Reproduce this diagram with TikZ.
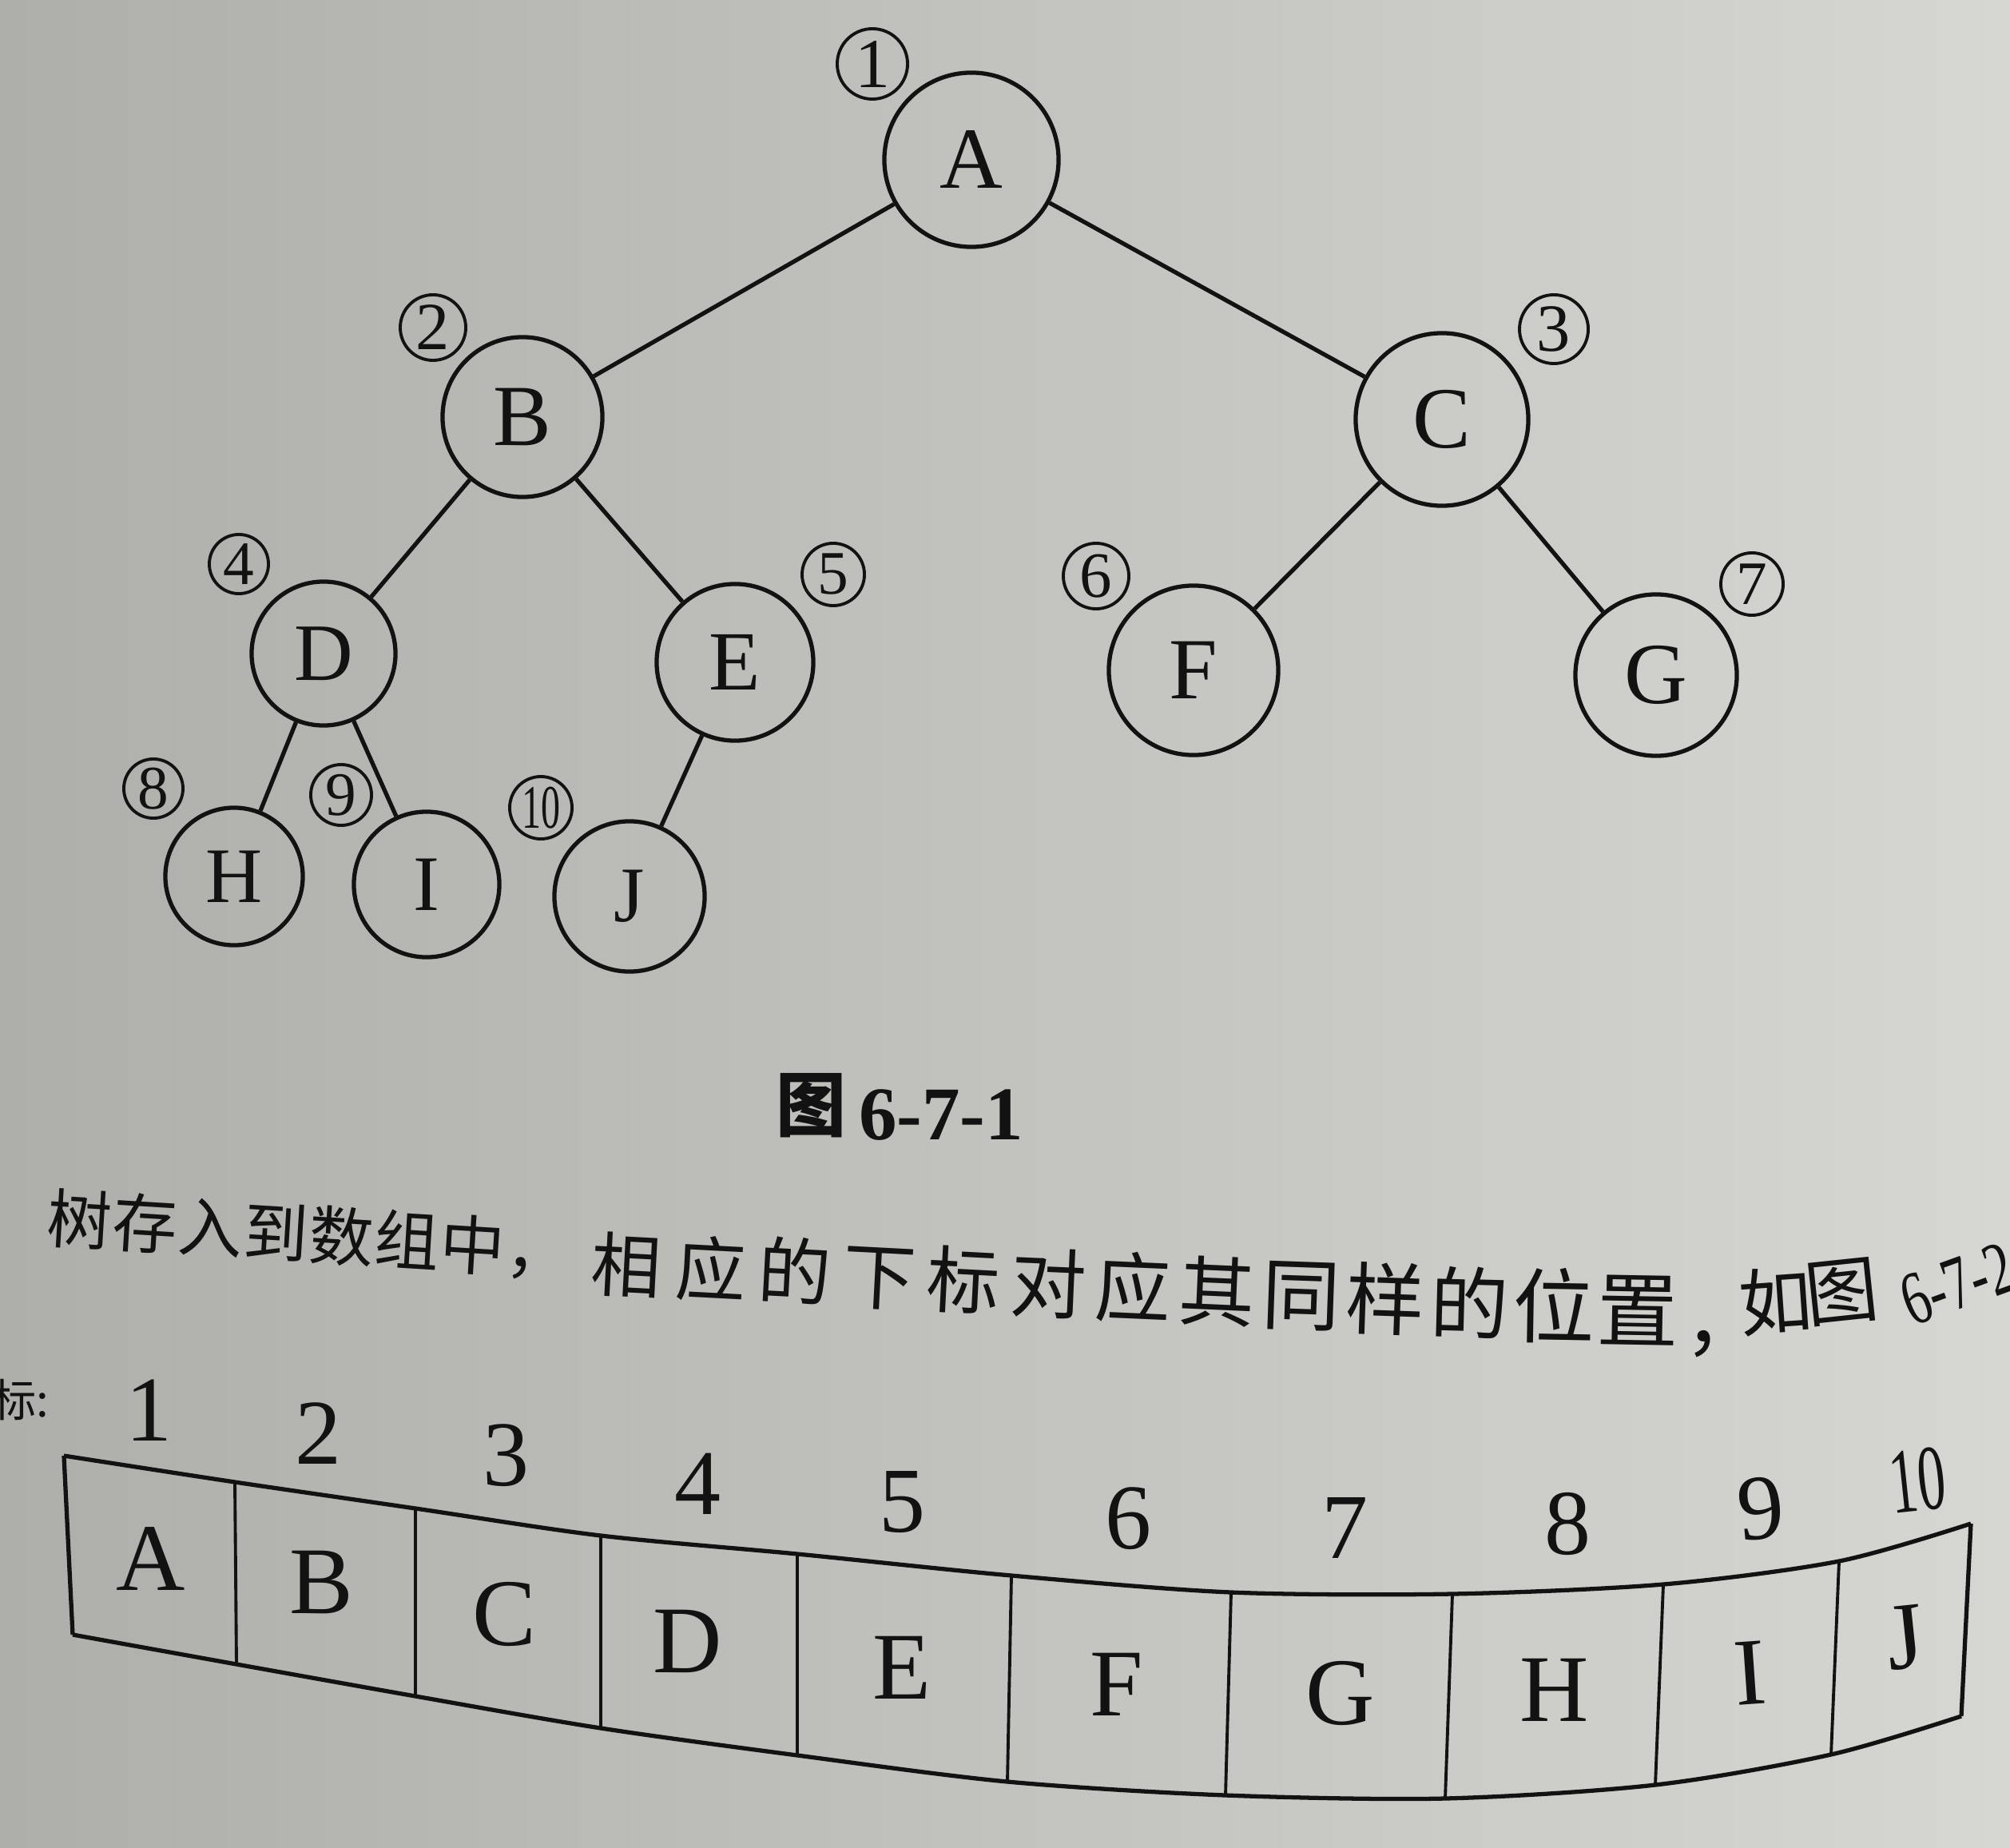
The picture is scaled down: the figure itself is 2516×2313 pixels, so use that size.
\documentclass[tikz,border=0pt]{standalone}
\usepackage{fontspec}
\usepackage{graphicx}
\setmainfont{Liberation Serif}
\newfontfamily\cjk{Noto Sans CJK SC}
\definecolor{ink}{RGB}{18,18,18}
\definecolor{paperL}{RGB}{174,174,170}
\definecolor{paperR}{RGB}{214,214,210}
\begin{document}
\begin{tikzpicture}[x=0.01cm,y=-0.01cm,
  tnode/.style={circle, draw=ink, line width=1.5pt, inner sep=0pt, text=ink, font=\fontsize{31}{31}\selectfont},
  cnum/.style={circle, draw=ink, line width=1.1pt, inner sep=0pt, text=ink, minimum size=0.78cm, font=\fontsize{22}{22}\selectfont},
  tedge/.style={draw=ink, line width=1.5pt},
  arr/.style={draw=ink, line width=1.5pt},
  div/.style={draw=ink, line width=1.1pt},
  cell/.style={inner sep=0pt, text=ink, font=\fontsize{34}{34}\selectfont},
  idx/.style={inner sep=0pt, text=ink, font=\fontsize{33}{33}\selectfont},
  cjkch/.style={inner sep=0pt, text=ink, text height=0.88em, text depth=0.12em}]
\useasboundingbox (0,0) rectangle (2516,2313);
\shade[left color=paperL, right color=paperR] (0,0) rectangle (2516,2313);

% tree nodes
\node[tnode, minimum size=2.18cm] (A) at (1216,200) {A};
\node[tnode, minimum size=2.0cm]  (B) at (654,522) {B};
\node[tnode, minimum size=2.16cm] (C) at (1805,525) {C};
\node[tnode, minimum size=1.8cm, font=\fontsize{29}{29}\selectfont]  (D) at (405,818) {D};
\node[tnode, minimum size=1.96cm, font=\fontsize{30}{30}\selectfont] (E) at (920,829) {E};
\node[tnode, minimum size=2.12cm] (F) at (1494,839) {F};
\node[tnode, minimum size=2.02cm] (G) at (2073,845) {G};
\node[tnode, minimum size=1.72cm, font=\fontsize{28}{28}\selectfont] (H) at (293,1097) {H};
\node[tnode, minimum size=1.82cm, font=\fontsize{28}{28}\selectfont] (I) at (534,1107) {I};
\node[tnode, minimum size=1.88cm, font=\fontsize{28}{28}\selectfont] (J) at (788,1122) {J};

% tree edges
\draw[tedge] (A) -- (B);
\draw[tedge] (A) -- (C);
\draw[tedge] (B) -- (D);
\draw[tedge] (B) -- (E);
\draw[tedge] (C) -- (F);
\draw[tedge] (C) -- (G);
\draw[tedge] (D) -- (H);
\draw[tedge] (D) -- (I);
\draw[tedge] (E) -- (J);

% circled numbers
\node[cnum, minimum size=0.88cm, font=\fontsize{25}{25}\selectfont] (n1) at (1092,80) {1};
\node[cnum, minimum size=0.82cm, font=\fontsize{24}{24}\selectfont] (n2) at (542,410) {2};
\node[cnum, minimum size=0.86cm, font=\fontsize{24}{24}\selectfont] (n3) at (1945,412) {3};
\node[cnum, minimum size=0.74cm] (n4) at (299,706) {4};
\node[cnum, minimum size=0.78cm] (n5) at (1043,719) {5};
\node[cnum, minimum size=0.82cm, font=\fontsize{23}{23}\selectfont] (n6) at (1372,721) {6};
\node[cnum, minimum size=0.78cm] (n7) at (2193,731) {7};
\node[cnum, minimum size=0.74cm] (n8) at (192,987) {8};
\node[cnum, minimum size=0.76cm] (n9) at (427,995) {9};
\node[cnum, minimum size=0.78cm] (n10) at (677,1011) {\scalebox{0.62}[1]{10}};

% caption
\node[inner sep=0pt, text=ink, font=\cjk\bfseries\fontsize{25}{25}\selectfont] (capz) at (1015,1384) {图};
\node[inner sep=0pt, text=ink, font=\bfseries\fontsize{27}{27}\selectfont] (capn) at (1178,1396) {6-7-1};

% text line
\foreach \ch/\x/\y/\s/\r [count=\k] in {
  树/99/1544/23/-3.5, 存/181/1549/23/-3.5, 入/263/1554/23/-3.5, 到/345/1560/23/-3.5,
  数/427/1565/23/-3.5, 组/509/1570/23/-3.5, 中/591/1576/23/-3.5, ，/673/1581/23/-3.5,
  相/783/1603/25/-3, 应/889/1608/25/-3, 的/994/1613/26/-3, 下/1100/1619/26/-3,
  标/1205/1624/26/-3, 对/1311/1629/27/-2.5, 应/1417/1634/27/-2.5, 其/1522/1639/27/-2.5,
  同/1628/1644/28/-2, 样/1733/1650/28/-2, 的/1839/1655/28/-1.5, 位/1945/1660/29/-1,
  置/2050/1665/29/-1, ，/2158/1675/28/0, 如/2224/1650/26/4, 图/2308/1636/26/6}
  \node[cjkch, font=\cjk\fontsize{\s}{\s}\selectfont, rotate=\r] (w\k) at (\x,\y) {\ch};
\node[inner sep=0pt, text=ink, anchor=west, rotate=20, font=\fontsize{27}{27}\selectfont] (fig2) at (2382,1632) {\scalebox{0.7}[1]{6-7-2}};
\node[inner sep=0pt, text=ink, anchor=east, font=\cjk\fontsize{16}{16}\selectfont] (lab) at (62,1752) {标:};

% array outline
\coordinate (t0) at (80,1822);   \coordinate (b0) at (91,2046);
\coordinate (t1) at (294,1855);  \coordinate (b1) at (296,2083);
\coordinate (t2) at (520,1888);  \coordinate (b2) at (520,2123);
\coordinate (t3) at (752,1922);  \coordinate (b3) at (752,2163);
\coordinate (t4) at (998,1945);  \coordinate (b4) at (998,2197);
\coordinate (t5) at (1266,1972); \coordinate (b5) at (1261,2230);
\coordinate (t6) at (1541,1993); \coordinate (b6) at (1534,2247);
\coordinate (t7) at (1818,1995); \coordinate (b7) at (1809,2251);
\coordinate (t8) at (2082,1983); \coordinate (b8) at (2072,2234);
\coordinate (t9) at (2302,1954); \coordinate (b9) at (2292,2196);
\coordinate (t10) at (2467,1907); \coordinate (b10) at (2455,2148);
\draw[arr] plot[smooth, tension=0.5] coordinates {(t0) (t1) (t2) (t3) (t4) (t5) (t6) (t7) (t8) (t9) (t10)};
\draw[arr] plot[smooth, tension=0.5] coordinates {(b0) (b1) (b2) (b3) (b4) (b5) (b6) (b7) (b8) (b9) (b10)};
\draw[arr] (t0) -- (b0);
\draw[arr] (t10) -- (b10);
\foreach \i in {1,...,9} \draw[div] (t\i) -- (b\i);

% array cells
\node[cell] (cA) at (189,1951) {A};
\node[cell] (cB) at (402,1981) {B};
\node[cell] (cC) at (631,2020) {C};
\node[cell] (cD) at (861,2054) {D};
\node[cell] (cE) at (1129,2087) {E};
\node[cell] (cF) at (1398,2108) {F};
\node[cell] (cG) at (1678,2119) {G};
\node[cell] (cH) at (1946,2115) {H};
\node[cell, rotate=4] (cI) at (2191,2094) {I};
\node[cell, rotate=6] (cJ) at (2385,2050) {J};

% indices
\node[idx] (i1) at (187,1765) {1};
\node[idx] (i2) at (399,1794) {2};
\node[idx] (i3) at (634,1822) {3};
\node[idx] (i4) at (873,1857) {4};
\node[idx] (i5) at (1129,1880) {5};
\node[idx] (i6) at (1412,1901) {6};
\node[idx] (i7) at (1683,1912) {7};
\node[idx] (i8) at (1962,1907) {8};
\node[idx, rotate=5] (i9) at (2204,1888) {9};
\node[idx, rotate=6] (i10) at (2400,1853) {\scalebox{0.6}[1]{10}};
\end{tikzpicture}
\end{document}
